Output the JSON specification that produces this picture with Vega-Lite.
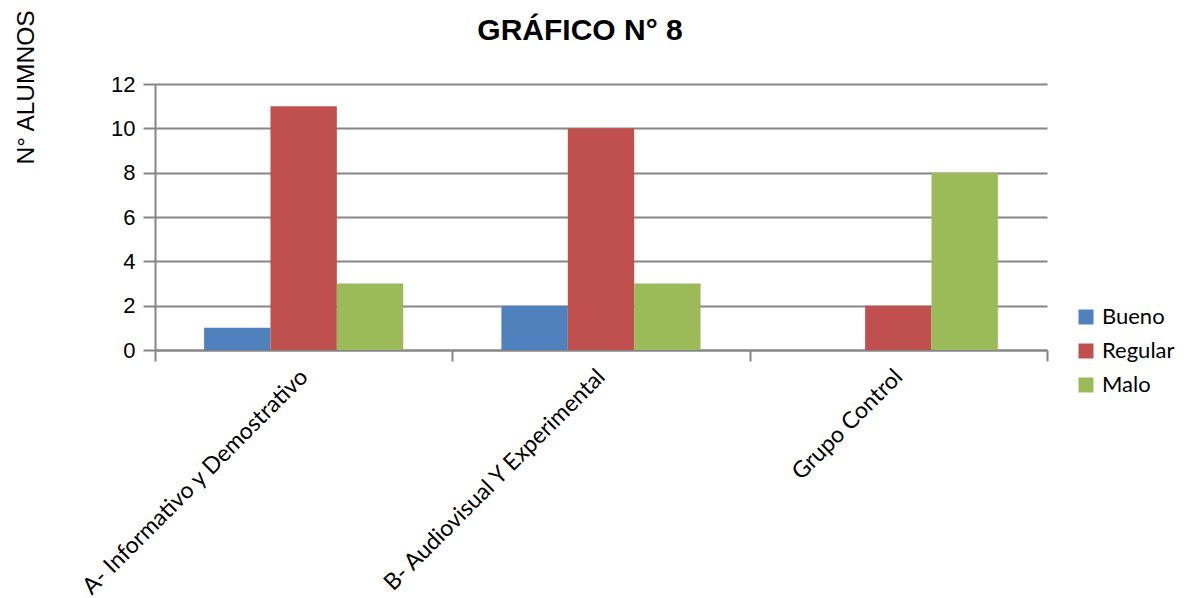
{
  "$schema": "https://vega.github.io/schema/vega-lite/v6.json",
  "autosize": {"type": "none"},
  "padding": {"left": 155, "top": 84, "right": 144, "bottom": 248},
  "width": 892,
  "height": 266,
  "background": "white",
  "title": {
    "text": "GRÁFICO N° 8",
    "font": "Liberation Sans",
    "fontSize": 30,
    "fontWeight": "bold",
    "color": "#000000",
    "anchor": "middle",
    "frame": "group",
    "baseline": "alphabetic",
    "offset": 39,
    "dx": -21,
    "dy": 100
  },
  "data": {
    "values": [
      {"grupo": "A- Informativo y Demostrativo", "nivel": "Bueno", "alumnos": 1},
      {"grupo": "A- Informativo y Demostrativo", "nivel": "Regular", "alumnos": 11},
      {"grupo": "A- Informativo y Demostrativo", "nivel": "Malo", "alumnos": 3},
      {"grupo": "B- Audiovisual Y Experimental", "nivel": "Bueno", "alumnos": 2},
      {"grupo": "B- Audiovisual Y Experimental", "nivel": "Regular", "alumnos": 10},
      {"grupo": "B- Audiovisual Y Experimental", "nivel": "Malo", "alumnos": 3},
      {"grupo": "Grupo Control", "nivel": "Bueno", "alumnos": 0},
      {"grupo": "Grupo Control", "nivel": "Regular", "alumnos": 2},
      {"grupo": "Grupo Control", "nivel": "Malo", "alumnos": 8}
    ]
  },
  "mark": {"type": "bar", "stroke": null},
  "encoding": {
    "x": {
      "field": "grupo",
      "type": "nominal",
      "sort": null,
      "scale": {"paddingInner": 0, "paddingOuter": 0},
      "axis": {
        "title": null,
        "tickBand": "extent",
        "labelAngle": -45,
        "labelAlign": "right",
        "labelBaseline": "middle",
        "labelFont": "Lato",
        "labelFontSize": 23,
        "labelColor": "#000000",
        "labelPadding": 12,
        "labelLimit": 0,
        "domainColor": "#868686",
        "domainWidth": 2,
        "tickColor": "#868686",
        "tickWidth": 2,
        "tickSize": 11,
        "grid": false
      }
    },
    "xOffset": {
      "field": "nivel",
      "type": "nominal",
      "sort": ["Bueno", "Regular", "Malo"],
      "scale": {"paddingInner": 0, "paddingOuter": 0.74}
    },
    "y": {
      "field": "alumnos",
      "type": "quantitative",
      "scale": {"domain": [0, 12], "nice": false},
      "axis": {
        "title": "N° ALUMNOS",
        "titleFont": "Liberation Sans",
        "titleFontSize": 24.5,
        "titleFontWeight": "normal",
        "titleColor": "#000000",
        "titleAngle": -90,
        "titleAlign": "center",
        "titleBaseline": "alphabetic",
        "titleX": -122,
        "titleY": 3,
        "values": [0, 2, 4, 6, 8, 10, 12],
        "labelFont": "Liberation Sans",
        "labelFontSize": 22,
        "labelColor": "#000000",
        "labelPadding": 8,
        "tickSize": 12,
        "tickColor": "#868686",
        "tickWidth": 2,
        "domainColor": "#868686",
        "domainWidth": 2,
        "gridColor": "#868686",
        "gridWidth": 2
      }
    },
    "color": {
      "field": "nivel",
      "type": "nominal",
      "sort": ["Bueno", "Regular", "Malo"],
      "scale": {
        "domain": ["Bueno", "Regular", "Malo"],
        "range": ["#4F81BD", "#C0504D", "#9BBB59"]
      },
      "legend": {
        "title": null,
        "orient": "none",
        "legendX": 920,
        "legendY": 222,
        "symbolType": "square",
        "symbolSize": 225,
        "symbolStrokeWidth": 0,
        "symbolOpacity": 1,
        "labelFont": "Lato",
        "labelFontSize": 22,
        "labelColor": "#000000",
        "labelOffset": 5,
        "rowPadding": 12
      }
    }
  },
  "config": {
    "view": {"stroke": null},
    "axis": {"labelOverlap": false}
  }
}
